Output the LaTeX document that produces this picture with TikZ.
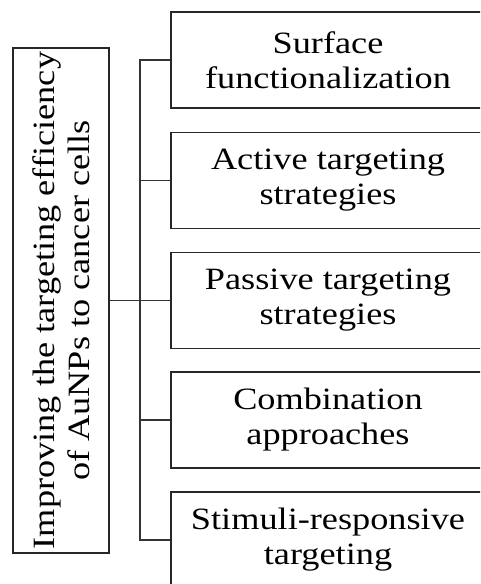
\documentclass[tikz,border=0pt]{standalone}
\usepackage{fontspec}
\setmainfont{Liberation Serif}[FakeStretch=1.17]
\begin{document}
\begin{tikzpicture}[x=1pt,y=-1pt,
  box/.style={draw=black!85, line width=1.6pt, inner sep=0pt, align=center,
    font=\fontsize{31}{35}\selectfont},
  rbox/.style={box, minimum width=314pt, minimum height=96pt},
  link/.style={draw=black!80, line width=1.1pt}]
\useasboundingbox (0,0) rectangle (480,584);
\clip (0,0) rectangle (480,584);
\node[box, rotate=90, minimum width=505pt, minimum height=96pt] (root) at (61,300.5)
  {Improving the targeting efficiency\\of AuNPs to cancer cells};
\node[rbox] (b1) at (328,60) {Surface\\functionalization};
\node[rbox] (b2) at (328,180.5) {Active targeting\\strategies};
\node[rbox] (b3) at (328,300.5) {Passive targeting\\strategies};
\node[rbox] (b4) at (328,420) {Combination\\approaches};
\node[rbox] (b5) at (328,540) {Stimuli-responsive\\targeting};
\coordinate (j) at (140,300.5);
\draw[link] (root.south) -- (b3.west);
\draw[link] (b1.west) -- (b1.west -| j) -- (b5.west -| j) -- (b5.west);
\draw[link] (b2.west) -- (b2.west -| j);
\draw[link] (b4.west) -- (b4.west -| j);
\end{tikzpicture}
\end{document}
